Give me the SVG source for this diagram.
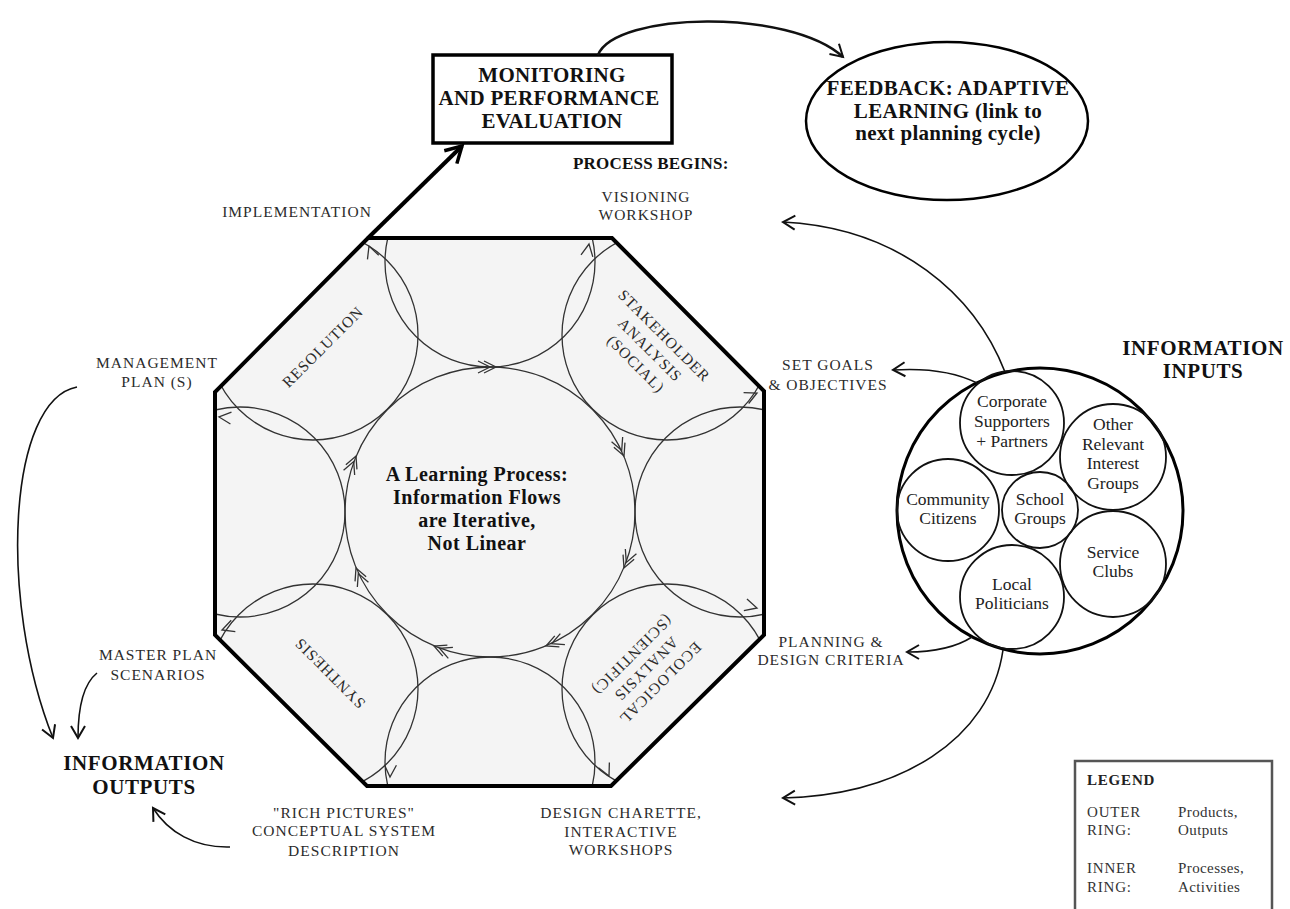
<svg xmlns="http://www.w3.org/2000/svg" xmlns:xlink="http://www.w3.org/1999/xlink" width="1290" height="909" viewBox="0 0 1290 909">
<style>
.b{font-family:"Liberation Serif",serif;font-weight:bold;font-size:21px;fill:#111;text-anchor:middle;letter-spacing:0.3px}
.lab{font-family:"Liberation Serif",serif;font-size:15.5px;fill:#2b2b2b;text-anchor:middle;letter-spacing:1px}
.grp{font-family:"Liberation Serif",serif;font-size:17.5px;fill:#222;text-anchor:middle}
.ctr{font-family:"Liberation Serif",serif;font-weight:bold;font-size:20px;fill:#111;text-anchor:middle;letter-spacing:0.5px}
.leg{font-family:"Liberation Serif",serif;font-size:15px;fill:#333;letter-spacing:0.8px}
.ring{fill:none;stroke:#333;stroke-width:1.3}
.con{fill:none;stroke:#111;stroke-width:1.6}
.flow{fill:none;stroke:#333;stroke-width:1.3}
</style>
<defs>
<clipPath id="oct"><path d="M368,238 L612,238 L764,391 L764,635 L611,786 L367,786 L215,635 L215,392 Z"/></clipPath>
<marker id="ah" markerWidth="18" markerHeight="18" refX="14" refY="9" orient="auto" markerUnits="userSpaceOnUse"><path d="M2,2 L14,9 L2,16" fill="none" stroke="#111" stroke-width="2"/></marker>
<marker id="ahB" markerWidth="24" markerHeight="24" refX="19" refY="12" orient="auto" markerUnits="userSpaceOnUse"><path d="M3,3 L19,12 L3,21" fill="none" stroke="#000" stroke-width="3.5"/></marker>
<path id="a1" d="M-12,-6 L0,0 L-12,6"/>
<path id="a2" d="M-12,-6 L0,0 L-12,6 M-18,-6 L-6,0 L-18,6"/>
</defs>
<rect width="1290" height="909" fill="#fff"/>

<g id="octagon">
<path d="M368,238 L612,238 L764,391 L764,635 L611,786 L367,786 L215,635 L215,392 Z" fill="#f4f4f4"/>
<g clip-path="url(#oct)" class="ring">
<circle cx="490" cy="512" r="145"/>
<circle cx="740" cy="512" r="105"/>
<circle cx="667" cy="689" r="105"/>
<circle cx="490" cy="762" r="105"/>
<circle cx="313" cy="689" r="105"/>
<circle cx="240" cy="512" r="105"/>
<circle cx="313" cy="335" r="105"/>
<circle cx="490" cy="262" r="105"/>
<circle cx="667" cy="335" r="105"/>
</g>
<g class="flow">
<use xlink:href="#a2" transform="translate(496,367) rotate(0)"/>
<use xlink:href="#a2" transform="translate(624,456) rotate(67.5)"/>
<use xlink:href="#a2" transform="translate(624,568) rotate(112.5)"/>
<use xlink:href="#a2" transform="translate(546,646) rotate(157.5)"/>
<use xlink:href="#a2" transform="translate(434,646) rotate(202.5)"/>
<use xlink:href="#a2" transform="translate(356,568) rotate(247.5)"/>
<use xlink:href="#a2" transform="translate(356,456) rotate(292.5)"/>
<use xlink:href="#a1" transform="translate(369,246) rotate(-110)"/>
<use xlink:href="#a1" transform="translate(589,244) rotate(-80)"/>
<use xlink:href="#a1" transform="translate(757,393) rotate(-25)"/>
<use xlink:href="#a1" transform="translate(757,608) rotate(15)"/>
<use xlink:href="#a1" transform="translate(609,776) rotate(65)"/>
<use xlink:href="#a1" transform="translate(390,777) rotate(92)"/>
<use xlink:href="#a1" transform="translate(222,630) rotate(160)"/>
<use xlink:href="#a1" transform="translate(219,417) rotate(185)"/>
</g>
<path d="M368,238 L612,238 L764,391 L764,635 L611,786 L367,786 L215,635 L215,392 Z" fill="none" stroke="#000" stroke-width="4"/>
<text class="lab" transform="translate(323,347) rotate(-45)" y="5">RESOLUTION</text>
<text class="lab" transform="translate(650,350) rotate(45)"><tspan x="0" y="-15">STAKEHOLDER</tspan><tspan x="0" y="5">ANALYSIS</tspan><tspan x="0" y="25">(SOCIAL)</tspan></text>
<text class="lab" transform="translate(646,669) rotate(135)"><tspan x="0" y="-15">ECOLOGICAL</tspan><tspan x="0" y="5">ANALYSIS</tspan><tspan x="0" y="25">(SCIENTIFIC)</tspan></text>
<text class="lab" transform="translate(330,673) rotate(225)" y="5">SYNTHESIS</text>
<text class="ctr"><tspan x="477" y="481">A Learning Process:</tspan><tspan x="477" y="504">Information Flows</tspan><tspan x="477" y="527">are Iterative,</tspan><tspan x="477" y="550">Not Linear</tspan></text>
</g>

<g id="monitoring">
<rect x="433" y="55" width="239" height="88" fill="#fff" stroke="#000" stroke-width="3.5"/>
<text class="b"><tspan x="552" y="82">MONITORING</tspan><tspan x="549" y="105">AND PERFORMANCE</tspan><tspan x="552" y="128">EVALUATION</tspan></text>
</g>

<g id="feedback">
<ellipse cx="947" cy="121" rx="141" ry="79" fill="#fff" stroke="#000" stroke-width="2.5"/>
<text class="b"><tspan x="948" y="95">FEEDBACK: ADAPTIVE</tspan><tspan x="948" y="118">LEARNING (link to</tspan><tspan x="948" y="140">next planning cycle)</tspan></text>
</g>

<g id="inputs">
<circle cx="1040" cy="511" r="143" fill="#fff" stroke="#000" stroke-width="3"/>
<g fill="none" stroke="#111" stroke-width="1.8">
<circle cx="1012" cy="423" r="52"/>
<circle cx="1113" cy="457" r="53"/>
<circle cx="948" cy="510" r="51"/>
<circle cx="1040" cy="510" r="38"/>
<circle cx="1113" cy="564" r="53"/>
<circle cx="1012" cy="597" r="52"/>
</g>
<text class="grp"><tspan x="1012" y="407">Corporate</tspan><tspan x="1012" y="427">Supporters</tspan><tspan x="1012" y="447">+ Partners</tspan></text>
<text class="grp"><tspan x="1113" y="430">Other</tspan><tspan x="1113" y="450">Relevant</tspan><tspan x="1113" y="469">Interest</tspan><tspan x="1113" y="489">Groups</tspan></text>
<text class="grp"><tspan x="948" y="505">Community</tspan><tspan x="948" y="524">Citizens</tspan></text>
<text class="grp"><tspan x="1040" y="505">School</tspan><tspan x="1040" y="524">Groups</tspan></text>
<text class="grp"><tspan x="1113" y="558">Service</tspan><tspan x="1113" y="577">Clubs</tspan></text>
<text class="grp"><tspan x="1012" y="590">Local</tspan><tspan x="1012" y="609">Politicians</tspan></text>
<text class="b" style="letter-spacing:0.6px"><tspan x="1203" y="355">INFORMATION</tspan><tspan x="1203" y="378">INPUTS</tspan></text>
</g>

<g id="outputs">
<text class="b" style="letter-spacing:0.6px"><tspan x="144" y="770">INFORMATION</tspan><tspan x="144" y="794">OUTPUTS</tspan></text>
</g>

<g id="labels">
<text class="b" style="font-size:17px;text-anchor:start;letter-spacing:0.2px" x="573" y="169">PROCESS BEGINS:</text>
<text class="lab"><tspan x="646" y="202">VISIONING</tspan><tspan x="646" y="220">WORKSHOP</tspan></text>
<text class="lab" x="297" y="217">IMPLEMENTATION</text>
<text class="lab"><tspan x="157" y="368">MANAGEMENT</tspan><tspan x="157" y="387">PLAN (S)</tspan></text>
<text class="lab"><tspan x="158" y="660">MASTER PLAN</tspan><tspan x="158" y="680">SCENARIOS</tspan></text>
<text class="lab"><tspan x="828" y="370">SET GOALS</tspan><tspan x="828" y="390">&amp; OBJECTIVES</tspan></text>
<text class="lab"><tspan x="831" y="647">PLANNING &amp;</tspan><tspan x="831" y="665">DESIGN CRITERIA</tspan></text>
<text class="lab"><tspan x="344" y="818">"RICH PICTURES"</tspan><tspan x="344" y="836">CONCEPTUAL SYSTEM</tspan><tspan x="344" y="856">DESCRIPTION</tspan></text>
<text class="lab"><tspan x="621" y="818">DESIGN CHARETTE,</tspan><tspan x="621" y="837">INTERACTIVE</tspan><tspan x="621" y="855">WORKSHOPS</tspan></text>
</g>

<g id="legend">
<path d="M1075,912 V761 H1272 V912" fill="none" stroke="#555" stroke-width="2.5"/>
<text class="leg" style="font-weight:bold;fill:#222" x="1087" y="785">LEGEND</text>
<text class="leg"><tspan x="1087" y="817">OUTER</tspan><tspan x="1087" y="835">RING:</tspan><tspan x="1087" y="873">INNER</tspan><tspan x="1087" y="892">RING:</tspan></text>
<text class="leg" style="letter-spacing:0.4px"><tspan x="1178" y="817">Products,</tspan><tspan x="1178" y="835">Outputs</tspan><tspan x="1178" y="873">Processes,</tspan><tspan x="1178" y="892">Activities</tspan></text>
</g>

<g id="connectors">
<path d="M368,238 L462,146" fill="none" stroke="#000" stroke-width="4" marker-end="url(#ahB)"/>
<path d="M598,55 C615,12 790,8 843,57" class="con" style="stroke-width:2.5" marker-end="url(#ah)"/>
<path d="M1005,372 C975,295 900,228 783,222" class="con" marker-end="url(#ah)"/>
<path d="M977,383 C955,372 925,368 893,370" class="con" marker-end="url(#ah)"/>
<path d="M972,637 C955,648 930,652 907,652" class="con" marker-end="url(#ah)"/>
<path d="M1003,650 C990,740 900,795 783,798" class="con" marker-end="url(#ah)"/>
<path d="M77,387 C8,400 -2,600 53,738" class="con" marker-end="url(#ah)"/>
<path d="M97,673 C82,685 78,710 78,738" class="con" marker-end="url(#ah)"/>
<path d="M230,847 C195,848 168,832 153,808" class="con" marker-end="url(#ah)"/>
</g>
</svg>
